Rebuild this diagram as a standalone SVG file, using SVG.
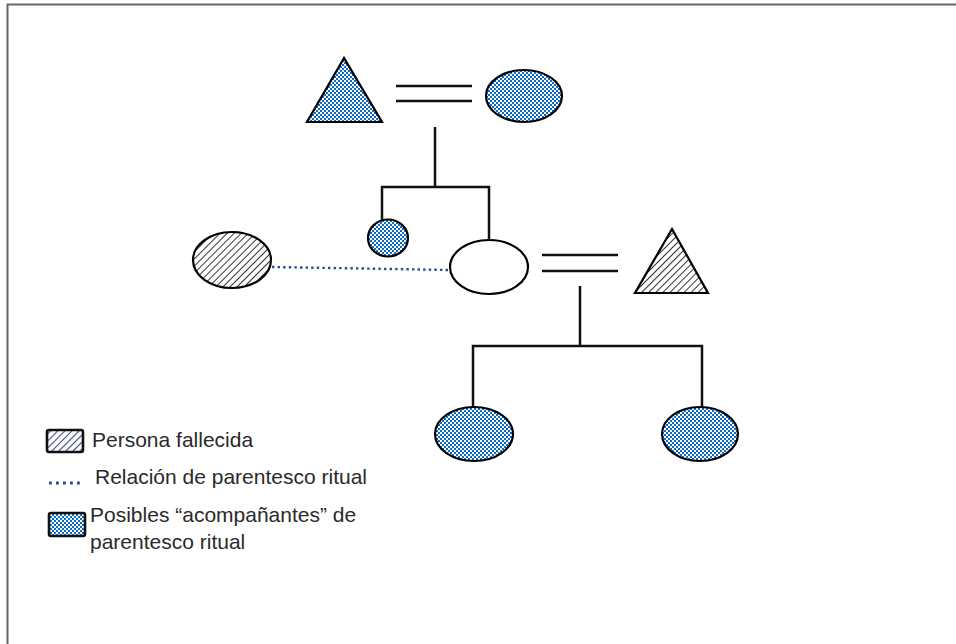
<svg xmlns="http://www.w3.org/2000/svg" width="956" height="644" viewBox="0 0 956 644">
<defs>
<pattern id="check" x="0" y="0" width="4" height="4" patternUnits="userSpaceOnUse">
<rect width="4" height="4" fill="#0B6CC6"/>
<rect width="2" height="2" fill="#fff"/>
<rect x="2" y="2" width="2" height="2" fill="#fff"/>
</pattern>
<pattern id="hatch" width="5" height="5" patternUnits="userSpaceOnUse" patternTransform="rotate(45)">
<rect width="5" height="5" fill="#fff"/>
<line x1="0" y1="0" x2="0" y2="5" stroke="#333" stroke-width="2"/>
</pattern>
<pattern id="hatchL" width="5" height="5" patternUnits="userSpaceOnUse" patternTransform="rotate(45)">
<rect width="5" height="5" fill="#fff"/>
<line x1="0" y1="0" x2="0" y2="5" stroke="#3a4f80" stroke-width="2.2"/>
</pattern>
<style>
.sh{stroke:#000;stroke-width:2.2}
.ln{stroke:#111;stroke-width:2.5;fill:none}
.lb{font-family:"Liberation Sans",Arial,sans-serif;font-size:21px;fill:#2a2a2a}
.lg{stroke:#111;stroke-width:2.6}
</style>
</defs>
<rect width="956" height="644" fill="#fff"/>
<path d="M7.5 644 V4.5 H956" fill="none" stroke="#666" stroke-width="2"/>

<g id="connectors">
<line class="ln" x1="396" y1="86" x2="472" y2="86"/>
<line class="ln" x1="396" y1="101" x2="472" y2="101"/>
<path class="ln" d="M435 127 V187 M382 220 V187 H489 V240"/>
<line class="ln" x1="542" y1="255" x2="618" y2="255"/>
<line class="ln" x1="542" y1="271" x2="618" y2="271"/>
<path class="ln" d="M580 286 V346 M473 407 V346 H702 V407"/>
<line x1="272" y1="267" x2="450" y2="270" stroke="#2b4a8f" stroke-width="2.4" stroke-dasharray="2.4 3.2"/>
</g>

<g id="father"><polygon class="sh" points="344,58 307,122 382,122" fill="url(#check)"/></g>
<g id="mother"><ellipse class="sh" cx="524" cy="96" rx="38" ry="26" fill="url(#check)"/></g>
<g id="sibling"><ellipse class="sh" cx="388" cy="238" rx="20" ry="18.5" fill="url(#check)"/></g>
<g id="deceased"><ellipse class="sh" cx="232" cy="260" rx="39" ry="28" fill="url(#hatch)"/></g>
<g id="ego"><ellipse class="sh" cx="489" cy="267" rx="39" ry="27" fill="#fff"/></g>
<g id="spouse"><polygon class="sh" points="672,229 635,293 708,293" fill="url(#hatch)"/></g>
<g id="child1"><ellipse class="sh" cx="474" cy="434" rx="39" ry="27" fill="url(#check)"/></g>
<g id="child2"><ellipse class="sh" cx="700" cy="434" rx="38" ry="27" fill="url(#check)"/></g>

<g id="legend">
<rect class="lg" x="47" y="430" width="36" height="22" rx="2" fill="url(#hatchL)"/>
<text class="lb" x="92" y="447">Persona fallecida</text>
<line x1="49" y1="483" x2="83" y2="483" stroke="#2b4a8f" stroke-width="2.8" stroke-dasharray="2.8 4.2"/>
<text class="lb" x="95" y="484">Relación de parentesco ritual</text>
<rect class="lg" x="49" y="513" width="36" height="23" rx="2" fill="url(#check)"/>
<text class="lb" x="90" y="522">Posibles “acompañantes” de</text>
<text class="lb" x="90" y="549">parentesco ritual</text>
</g>
</svg>
